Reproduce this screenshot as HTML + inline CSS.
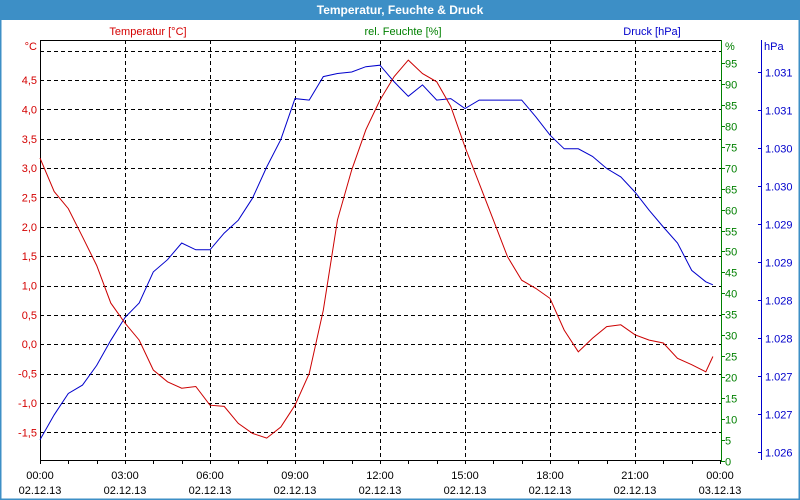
<!DOCTYPE html>
<html><head><meta charset="utf-8"><style>
body{margin:0;background:#fff}
#wrap{position:relative;width:800px;height:500px;overflow:hidden;font-family:"Liberation Sans",sans-serif}
svg text{font-family:"Liberation Sans",sans-serif;font-size:11px}
</style></head><body>
<div id="wrap">
<svg id="chart" width="800" height="500">
  <rect x="0" y="0" width="800" height="500" fill="#fff"/>
  <rect x="0" y="0" width="800" height="20" fill="#3d8fc6"/>
  <rect x="0.5" y="0.5" width="799" height="499" fill="none" stroke="#3d8fc6" stroke-width="2"/>
  <text x="400" y="14" text-anchor="middle" fill="#fff" font-weight="bold" style="font-size:12px">Temperatur, Feuchte &amp; Druck</text>
  <text x="148" y="35" text-anchor="middle" fill="#d40000">Temperatur [°C]</text>
  <text x="403" y="35" text-anchor="middle" fill="#008000">rel. Feuchte [%]</text>
  <text x="652" y="35" text-anchor="middle" fill="#0000cc">Druck [hPa]</text>
  <text x="37" y="50" text-anchor="end" fill="#d40000">°C</text>
  <text x="725" y="50" fill="#008000">%</text>
  <text x="764" y="50" fill="#0000cc">hPa</text>
  <g id="grid"></g>
  <g id="axes"></g>
  <g id="series"></g>
</svg>
</div>
<script>
const hours = [0,0.5,1,1.5,2,2.5,3,3.5,4,4.5,5,5.5,6,6.5,7,7.5,8,8.5,9,9.5,10,10.5,11,11.5,12,12.5,13,13.5,14,14.5,15,15.5,16,16.5,17,17.5,18,18.5,19,19.5,20,20.5,21,21.5,22,22.5,23,23.5,23.75];
const temperature = [3.17,2.60,2.31,1.83,1.34,0.70,0.36,0.07,-0.44,-0.64,-0.75,-0.72,-1.04,-1.06,-1.35,-1.52,-1.60,-1.41,-1.04,-0.50,0.58,2.12,2.97,3.65,4.16,4.56,4.84,4.61,4.47,4.05,3.36,2.74,2.12,1.49,1.09,0.95,0.78,0.24,-0.13,0.10,0.30,0.33,0.16,0.07,0.02,-0.24,-0.35,-0.47,-0.21];
const pressure = [1026.16,1026.49,1026.77,1026.88,1027.14,1027.47,1027.77,1027.96,1028.37,1028.53,1028.75,1028.66,1028.66,1028.88,1029.05,1029.34,1029.75,1030.11,1030.65,1030.63,1030.94,1030.98,1031.00,1031.07,1031.09,1030.87,1030.68,1030.83,1030.63,1030.65,1030.52,1030.63,1030.63,1030.63,1030.63,1030.41,1030.17,1029.99,1029.99,1029.89,1029.73,1029.62,1029.42,1029.18,1028.96,1028.75,1028.39,1028.24,1028.20];
const tempTicks = [4.5,4.0,3.5,3.0,2.5,2.0,1.5,1.0,0.5,0.0,-0.5,-1.0,-1.5];
const tempGrid = [5.0,4.5,4.0,3.5,3.0,2.5,2.0,1.5,1.0,0.5,0.0,-0.5,-1.0,-1.5];
const humidityTicks = [0,5,10,15,20,25,30,35,40,45,50,55,60,65,70,75,80,85,90,95];
const pressureTicks = [1031.0,1030.5,1030.0,1029.5,1029.0,1028.5,1028.0,1027.5,1027.0,1026.5,1026.0];
const pressureLabels = ["1.031","1.031","1.030","1.030","1.029","1.029","1.028","1.028","1.027","1.027","1.026"];
const timeTicks = [0,3,6,9,12,15,18,21,24];
const timeLabels = ["00:00","03:00","06:00","09:00","12:00","15:00","18:00","21:00","00:00"];
const dateLabels = ["02.12.13","02.12.13","02.12.13","02.12.13","02.12.13","02.12.13","02.12.13","02.12.13","03.12.13"];

const L=40,R=721,T=40,B=460;
const xs = h => L + h*(680/24);
const yT = t => 50.7 + (5.0 - t)*58.7;
const yH = v => 461 - v*4.19;
const yP = p => 72 + (1031 - p)*76;
const NS='http://www.w3.org/2000/svg';
function mk(tag, attrs, parent, txt){const e=document.createElementNS(NS,tag);for(const k in attrs)e.setAttribute(k,attrs[k]);if(txt!==undefined)e.textContent=txt;parent.appendChild(e);return e;}
const grid=document.getElementById('grid'), axes=document.getElementById('axes'), series=document.getElementById('series');

tempGrid.forEach(t=>{const y=Math.round(yT(t))+0.5;
  const e=mk('line',{x1:L,x2:R,y1:y,y2:y,stroke:'#000','stroke-dasharray':'4,3','stroke-width':1},grid);
  
  });
timeTicks.slice(1,-1).forEach(h=>{const x=Math.round(xs(h))+0.5;
  const e=mk('line',{x1:x,x2:x,y1:T,y2:B,stroke:'#000','stroke-dasharray':'4,3','stroke-width':1},grid);
  
  });

let e;
e=mk('line',{x1:L+0.5,x2:L+0.5,y1:T,y2:B,stroke:'#000'},axes);


e=mk('line',{x1:L,x2:R,y1:T+0.5,y2:T+0.5,stroke:'#000'},axes);


e=mk('line',{x1:L,x2:R,y1:B+0.5,y2:B+0.5,stroke:'#000'},axes);


e=mk('line',{x1:R+0.5,x2:R+0.5,y1:T,y2:B+1,stroke:'#008000'},axes);


e=mk('line',{x1:761.5,x2:761.5,y1:T,y2:B,stroke:'#0000cc'},axes);



tempTicks.forEach(t=>{
  e=mk('text',{x:37,y:yT(t)+4,'text-anchor':'end',fill:'#d40000'},axes,t.toFixed(1).replace('.',','));
  
  });
humidityTicks.forEach(v=>{const y=Math.round(yH(v))+0.5;
  e=mk('line',{x1:R,x2:R+4,y1:y,y2:y,stroke:'#008000'},axes);
  
  
  e=mk('text',{x:725,y:y+4,fill:'#008000'},axes,String(v));
  
  });
pressureTicks.forEach((p,i)=>{const y=Math.round(yP(p))+0.5;
  e=mk('line',{x1:758,x2:761,y1:y,y2:y,stroke:'#0000cc'},axes);
  
  
  e=mk('text',{x:765,y:y+4,fill:'#0000cc'},axes,pressureLabels[i]);
  
  });
for(let h=0;h<=24;h++){const x=Math.round(xs(h))+0.5;
  e=mk('line',{x1:x,x2:x,y1:B,y2:B+4,stroke:'#000'},axes);
  
  }
timeTicks.forEach((h,i)=>{const x=xs(h);
  e=mk('text',{x:x,y:479,'text-anchor':'middle',fill:'#000'},axes,timeLabels[i]);
  
  
  e=mk('text',{x:x,y:494,'text-anchor':'middle',fill:'#000'},axes,dateLabels[i]);
  
  });

const pp=hours.map((h,i)=>xs(h).toFixed(1)+','+yP(pressure[i]).toFixed(1)).join(' ');
e=mk('polyline',{points:pp,fill:'none',stroke:'#0000cc','stroke-width':1},series);


const tp=hours.map((h,i)=>xs(h).toFixed(1)+','+yT(temperature[i]).toFixed(1)).join(' ');
e=mk('polyline',{points:tp,fill:'none',stroke:'#cc0000','stroke-width':1},series);


</script>
</body></html>
